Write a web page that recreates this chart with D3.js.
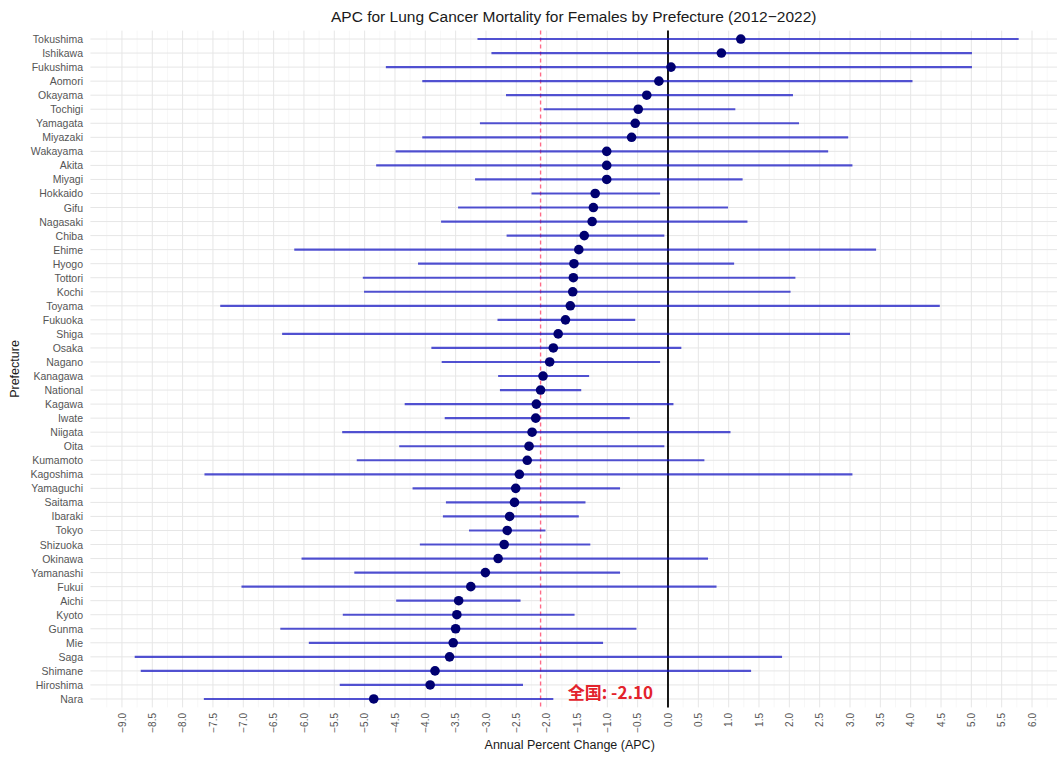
<!DOCTYPE html>
<html>
<head>
<meta charset="utf-8">
<script src="https://cdn.jsdelivr.net/npm/d3@7"></script>
<style>
	body { margin: 0; background: #fff; }
	svg text { font-family: "Liberation Sans", Arial, sans-serif; }
	.cjk { font-family: "Noto Sans CJK SC", "Liberation Sans", sans-serif !important; }
</style>
</head>
<body>
<svg id="chart" width="1057" height="758"></svg>
<script>
// ordered top to bottom as in the chart
let prefectures = ['Tokushima', 'Ishikawa', 'Fukushima', 'Aomori', 'Okayama', 'Tochigi', 'Yamagata', 'Miyazaki', 'Wakayama', 'Akita', 'Miyagi', 'Hokkaido', 'Gifu', 'Nagasaki', 'Chiba', 'Ehime', 'Hyogo', 'Tottori', 'Kochi', 'Toyama', 'Fukuoka', 'Shiga', 'Osaka', 'Nagano', 'Kanagawa', 'National', 'Kagawa', 'Iwate', 'Niigata', 'Oita', 'Kumamoto', 'Kagoshima', 'Yamaguchi', 'Saitama', 'Ibaraki', 'Tokyo', 'Shizuoka', 'Okinawa', 'Yamanashi', 'Fukui', 'Aichi', 'Kyoto', 'Gunma', 'Mie', 'Saga', 'Shimane', 'Hiroshima', 'Nara'];

let apc = [1.20, 0.88, 0.05, -0.15, -0.35, -0.49, -0.54, -0.60, -1.01, -1.01, -1.01, -1.20, -1.23, -1.25, -1.38, -1.47, -1.55, -1.56, -1.57, -1.61, -1.69, -1.81, -1.89, -1.95, -2.06, -2.10, -2.17, -2.18, -2.24, -2.29, -2.32, -2.45, -2.51, -2.53, -2.61, -2.65, -2.70, -2.80, -3.01, -3.25, -3.45, -3.48, -3.50, -3.54, -3.60, -3.84, -3.92, -4.85];

let lower = [-3.14, -2.91, -4.65, -4.05, -2.67, -2.05, -3.10, -4.05, -4.49, -4.81, -3.18, -2.25, -3.46, -3.74, -2.66, -6.16, -4.12, -5.03, -5.01, -7.38, -2.81, -6.36, -3.90, -3.73, -2.80, -2.77, -4.34, -3.68, -5.37, -4.43, -5.13, -7.64, -4.21, -3.66, -3.71, -3.28, -4.09, -6.04, -5.17, -7.03, -4.48, -5.36, -6.39, -5.92, -8.79, -8.69, -5.41, -7.65];

let upper = [5.78, 5.01, 5.01, 4.03, 2.06, 1.11, 2.16, 2.97, 2.64, 3.04, 1.23, -0.13, 0.99, 1.31, -0.06, 3.43, 1.09, 2.10, 2.02, 4.48, -0.54, 3.00, 0.22, -0.13, -1.30, -1.43, 0.09, -0.63, 1.03, -0.06, 0.60, 3.04, -0.79, -1.36, -1.47, -2.02, -1.28, 0.66, -0.79, 0.80, -2.43, -1.54, -0.52, -1.07, 1.88, 1.37, -2.39, -1.89];

let xTicks = d3.range(-9, 6.01, 0.5);
let nationalApc = -2.10;

let svg			= d3.select('#chart');
let panelLeft	= 90.4;
let panelRight	= 1057;
let panelTop	= 30.6;
let panelBottom	= 707.4;

let x = d3.scaleLinear().domain([-9.52, 6.42]).range([panelLeft, panelRight + 0.5]);
let y = d3.scalePoint().domain(prefectures).range([panelTop, panelBottom]).padding(0.6);

let fmt = v => d3.format('.1f')(v).replace('-', '\u2212');

let grid = svg.append('g').attr('id', 'grid');

// minor vertical grid
grid.selectAll('.minor').data(d3.range(-9.25, 6.3, 0.5)).enter().append('line')
	.attr('x1', d => x(d)).attr('x2', d => x(d)).attr('y1', panelTop).attr('y2', panelBottom)
	.style('stroke', '#f2f2f2').style('stroke-width', 0.6);

grid.selectAll('.major').data(xTicks).enter().append('line')
	.attr('x1', d => x(d)).attr('x2', d => x(d)).attr('y1', panelTop).attr('y2', panelBottom)
	.style('stroke', '#e6e6e6').style('stroke-width', 1);

grid.selectAll('.row').data(prefectures).enter().append('line')
	.attr('x1', panelLeft).attr('x2', panelRight).attr('y1', d => y(d)).attr('y2', d => y(d))
	.style('stroke', '#e6e6e6').style('stroke-width', 1);

// reference lines
svg.append('line').attr('x1', x(nationalApc)).attr('x2', x(nationalApc)).attr('y1', panelTop).attr('y2', panelBottom)
	.style('stroke', '#ff6b88').style('stroke-width', 1.4).style('stroke-dasharray', '4,3');

svg.append('line').attr('x1', x(0)).attr('x2', x(0)).attr('y1', panelTop).attr('y2', panelBottom)
	.style('stroke', '#000').style('stroke-width', 1.8);

// confidence intervals
svg.append('g').selectAll('line').data(prefectures).enter().append('line')
	.attr('x1', (d, i) => x(lower[i])).attr('x2', (d, i) => x(upper[i]))
	.attr('y1', d => y(d)).attr('y2', d => y(d))
	.style('stroke', '#1212c4').style('stroke-opacity', 0.72).style('stroke-width', 2.2);

svg.append('g').selectAll('circle').data(prefectures).enter().append('circle')
	.attr('cx', (d, i) => x(apc[i])).attr('cy', d => y(d)).attr('r', 4.8)
	.style('fill', '#000070');

// annotation
svg.append('text').attr('class', 'cjk').attr('x', x(-0.95)).attr('y', y('Nara') - 7)
	.attr('text-anchor', 'middle').attr('dominant-baseline', 'central')
	.style('fill', '#e3232c').style('font-size', '17px').style('font-weight', 'bold')
	.text('全国: ' + nationalApc.toFixed(2));

// y axis labels
svg.append('g').selectAll('text').data(prefectures).enter().append('text')
	.attr('x', 83).attr('y', d => y(d)).attr('text-anchor', 'end').attr('dominant-baseline', 'central')
	.style('fill', '#555').style('font-size', '10.5px').text(d => d);

// x axis labels, rotated
svg.append('g').selectAll('text').data(xTicks).enter().append('text')
	.attr('transform', d => 'translate(' + (x(d) + 3.7) + ',713) rotate(-90)')
	.attr('text-anchor', 'end')
	.style('fill', '#555').style('font-size', '10px').text(d => fmt(d));

svg.append('text').attr('x', (panelLeft + panelRight) / 2).attr('y', 16).attr('text-anchor', 'middle').attr('dominant-baseline', 'central')
	.style('fill', '#1a1a1a').style('font-size', '15.5px')
	.text('APC for Lung Cancer Mortality for Females by Prefecture (2012\u22122022)');

svg.append('text').attr('x', (panelLeft + panelRight) / 2 - 4).attr('y', 745).attr('text-anchor', 'middle').attr('dominant-baseline', 'central')
	.style('fill', '#1a1a1a').style('font-size', '12.5px').text('Annual Percent Change (APC)');

svg.append('text').attr('transform', 'translate(15,' + ((panelTop + panelBottom) / 2) + ') rotate(-90)')
	.attr('text-anchor', 'middle').attr('dominant-baseline', 'central')
	.style('fill', '#1a1a1a').style('font-size', '12.5px').text('Prefecture');
</script>
</body>
</html>
